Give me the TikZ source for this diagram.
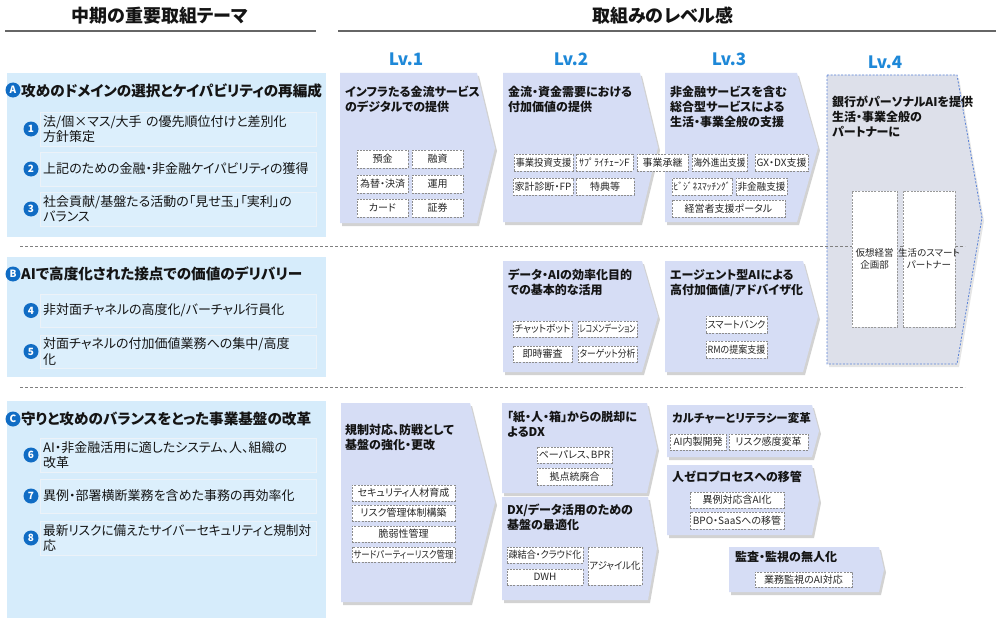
\documentclass[tikz,border=0pt]{standalone}
\usepackage{fontspec}
\setmainfont{Noto Sans CJK JP}[RawFeature=+palt]
\usetikzlibrary{shadows}
\definecolor{panelblue}{RGB}{214,236,251}
\definecolor{itemfill}{RGB}{220,239,252}
\definecolor{itemdraw}{RGB}{236,242,248}
\definecolor{circblue}{RGB}{16,108,196}
\definecolor{chevfill}{RGB}{214,221,245}
\definecolor{lvfourfill}{RGB}{221,224,234}
\definecolor{lvfourdraw}{RGB}{90,130,215}
\definecolor{lvblue}{RGB}{30,136,216}
\definecolor{txt}{RGB}{20,20,20}
\newsavebox\fitbx
\newcommand\fittext[2]{\sbox\fitbx{#2}\ifdim\wd\fitbx>#1\relax\pgfmathsetmacro\fitf{#1/\wd\fitbx}\scalebox{\fitf}[1]{\usebox\fitbx}\else\usebox\fitbx\fi}
\newcommand\chev[6]{%
  \coordinate (#1) at (#2,#3);
  \fill[chevfill, chevshadow] (#2,#3) -- (#4,#3) -- (#5,{(#3+#6)/2}) -- (#4,#6) -- (#2,#6) -- cycle;}
\newcommand\chevtext[4]{\node[chevtxt] (#1) at (#2,#3) {#4};}
\newcommand\tagbx[6]{\pgfmathsetmacro\tagw{#4-#2-3}%
  \node[tagstyle, minimum width={#4-#2}, minimum height={#5-#3}] (#1) at ({(#2+#4)/2},{(#3+#5)/2}) {\fittext{\tagw pt}{#6}};}
\newcommand\themeitem[5]{%
  \draw[itembox] (40,#2) rectangle (316,#3);
  \node[circ] (c#1) at (31,{(#2+#3)/2}) {#4};
  \node[itemtext] (i#1) at (43,{(#2+#3)/2}) {#5};}
\begin{document}
\begin{tikzpicture}[x=1pt,y=-1pt,
  titlefont/.style={font=\bfseries\fontsize{18}{20}\selectfont, text=txt, inner sep=0},
  titleline/.style={draw=black!60, line width=1.3pt},
  sep/.style={draw=black!50, line width=0.8pt, dash pattern=on 3pt off 2pt},
  circ/.style={circle, fill=circblue, text=white, inner sep=0, minimum size=15pt, font=\bfseries\fontsize{10}{10}\selectfont},
  head/.style={anchor=west, inner sep=0, font=\bfseries\fontsize{14.6}{16}\selectfont, text=txt},
  itembox/.style={fill=itemfill, draw=itemdraw, line width=0.8pt},
  itemtext/.style={anchor=west, inner sep=0, text width=272pt, align=left, font=\fontsize{13}{15.5}\selectfont, text=txt},
  lv/.style={font=\bfseries\fontsize{17}{18}\selectfont, text=lvblue, inner sep=0},
  chevshadow/.style={drop shadow={shadow xshift=2pt, shadow yshift=-3pt, opacity=0.35}},
  chevtxt/.style={anchor=north west, inner sep=0, align=left, font=\bfseries\fontsize{12}{15}\selectfont, text=txt},
  tagstyle/.style={fill=white, draw=black!45, dash pattern=on 2pt off 1.2pt, line width=0.6pt, inner sep=0, font=\fontsize{10}{11}\selectfont, text=black!85},
  bigtag/.style={fill=white, draw=black!40, dash pattern=on 2pt off 1.2pt, line width=0.6pt, inner sep=0},
  bigtagtext/.style={inner sep=0, align=center, font=\fontsize{9.5}{12}\selectfont, text=black!85}
]
\useasboundingbox (0,0) rectangle (996,618);
\fill[white] (0,0) rectangle (996,618);

% titles
\node[titlefont] (t1) at (160,16) {中期の重要取組テーマ};
\draw[titleline] (5,31) -- (316,31);
\node[titlefont] (t2) at (663,16) {取組みのレベル感};
\draw[titleline] (338,31) -- (996,31);

% left panels
\fill[panelblue] (7,73) rectangle (326,237);
\fill[panelblue] (7,257) rectangle (326,377);
\fill[panelblue] (7,401) rectangle (326,618);

\node[circ] (ca) at (13,90) {A};
\node[head] (ha) at (21,91) {攻めのドメインの選択とケイパビリティの再編成};
\themeitem{1}{112}{146}{1}{法/個×マス/大手 の優先順位付けと差別化\\方針策定}
\themeitem{2}{152}{186}{2}{上記のための金融・非金融ケイパビリティの獲得}
\themeitem{3}{192}{226}{3}{社会貢献/基盤たる活動の「見せ玉」「実利」の\\バランス}

\node[circ] (cb) at (13,274) {B};
\node[head] (hb) at (21,274) {AIで高度化された接点での価値のデリバリー};
\themeitem{4}{294}{327}{4}{非対面チャネルの高度化/バーチャル行員化}
\themeitem{5}{335}{368}{5}{対面チャネルの付加価値業務への集中/高度\\化}

\node[circ] (cc) at (13,419) {C};
\node[head] (hc) at (21,419) {守りと攻めのバランスをとった事業基盤の改革};
\themeitem{6}{438}{472}{6}{AI・非金融活用に適したシステム、人、組織の\\改革}
\themeitem{7}{479}{513}{7}{異例・部署横断業務を含めた事務の再効率化}
\themeitem{8}{521}{555}{8}{\fittext{268pt}{最新リスクに備えたサイバーセキュリティと規制対}\\応}

% level labels
\node[lv] (lv1) at (406,59) {Lv.1};
\node[lv] (lv2) at (571,59) {Lv.2};
\node[lv] (lv3) at (729,59) {Lv.3};
\node[lv] (lv4) at (885,62) {Lv.4};

% Lv.4 shape
\draw[fill=lvfourfill, draw=lvfourdraw, line width=0.8pt, dash pattern=on 2pt off 1.5pt, drop shadow={shadow xshift=2pt, shadow yshift=-3pt, opacity=0.2}]
  (827,75) -- (957,75) -- (982,218) -- (957,364) -- (827,364) -- cycle;

% separators
\draw[sep] (20,246) -- (965,246);
\draw[sep] (20,387) -- (965,387);

% chevrons
\chev{k1}{340}{73}{477}{495}{223}
\chev{k2}{503}{73}{640}{658}{222}
\chev{k3}{665}{73}{797}{818}{222}
\chev{k4}{503}{261}{642}{658}{372}
\chev{k5}{665}{261}{803}{818}{372}
\chev{k6}{341}{403}{470}{495}{602}
\chev{k7}{502}{403}{647}{657}{493}
\chev{k8}{502}{497}{648}{657}{600}
\chev{k9}{667}{405}{812}{819}{457}
\chev{k10}{667}{465}{812}{819}{535}
\chev{k11}{729}{547}{879}{884}{592}

% chevron headings
\chevtext{h1}{345}{86}{インフラたる金流サービス\\のデジタルでの提供}
\chevtext{h2}{508}{86}{金流・資金需要における\\付加価値の提供}
\chevtext{h3}{670}{86}{非金融サービスを含む\\総合型サービスによる\\生活・事業全般の支援}
\chevtext{h4}{832}{96}{銀行がパーソナルAIを提供\\生活・事業全般の\\パートナーに}
\chevtext{h5}{508}{269}{データ・AIの効率化目的\\での基本的な活用}
\chevtext{h6}{670}{269}{エージェント型AIによる\\高付加価値/アドバイザ化}
\chevtext{h7}{345}{424}{規制対応、防戦として\\基盤の強化・更改}
\chevtext{h8}{507}{411}{「紙・人・箱」からの脱却に\\よるDX}
\chevtext{h9}{507}{504}{DX/データ活用のための\\基盤の最適化}
\node[chevtxt, font=\bfseries\fontsize{11.5}{15}\selectfont] (h10) at (672,412) {カルチャーとリテラシー変革};
\chevtext{h11}{672}{471}{人ゼロプロセスへの移管}
\chevtext{h12}{735}{551}{監査・監視の無人化}

% tags Lv.1 top
\tagbx{a1}{357}{150}{408}{168}{預金}
\tagbx{a2}{412}{150}{463}{168}{融資}
\tagbx{a3}{357}{175}{408}{193}{為替・決済}
\tagbx{a4}{412}{175}{463}{193}{運用}
\tagbx{a5}{357}{199}{408}{217}{カード}
\tagbx{a6}{412}{199}{463}{217}{証券}
% Lv.2 / Lv.3 top
\tagbx{b1}{514}{154}{573}{171}{事業投資支援}
\tagbx{b2}{576}{154}{633}{171}{ｻﾌﾟﾗｲﾁｪｰﾝF}
\tagbx{b3}{637}{154}{688}{171}{事業承継}
\tagbx{b4}{513}{178}{573}{195}{家計診断・FP}
\tagbx{b5}{576}{178}{634}{195}{特典等}
\tagbx{c1}{692}{154}{747}{171}{海外進出支援}
\tagbx{c2}{755}{154}{808}{171}{GX・DX支援}
\tagbx{c3}{672}{178}{732}{195}{ﾋﾞｼﾞﾈｽﾏｯﾁﾝｸﾞ}
\tagbx{c4}{736}{178}{787}{195}{非金融支援}
\tagbx{c5}{672}{200}{785}{217}{経営者支援ポータル}
% Lv.4 boxes
\node[bigtag, minimum width=45pt, minimum height=136pt] (d1) at (874.5,259) {};
\node[bigtagtext] (d1t) at (d1) {仮想経営\\企画部};
\node[bigtag, minimum width=52pt, minimum height=136pt] (d2) at (929,259) {};
\node[bigtagtext] (d2t) at (d2) {生活のスマート\\パートナー};
% middle row
\tagbx{e1}{513}{321}{572}{337}{チャットボット}
\tagbx{e2}{578}{321}{637}{337}{レコメンデーション}
\tagbx{e3}{513}{346}{572}{362}{即時審査}
\tagbx{e4}{578}{346}{637}{362}{ターゲット分析}
\tagbx{f1}{706}{316}{767}{333}{スマートバンク}
\tagbx{f2}{706}{341}{767}{358}{RMの提案支援}
% bottom rows
\tagbx{g1}{352}{485}{455}{501}{セキュリティ人材育成}
\tagbx{g2}{352}{505}{455}{521}{リスク管理体制構築}
\tagbx{g3}{352}{526}{455}{542}{脆弱性管理}
\tagbx{g4}{352}{547}{455}{562}{サードパーティーリスク管理}
\tagbx{p1}{537}{447}{612}{463}{ペーパレス、BPR}
\tagbx{p2}{537}{468}{612}{485}{拠点統廃合}
\tagbx{q1}{507}{547}{583}{563}{疎結合・クラウド化}
\tagbx{q2}{507}{569}{583}{585}{DWH}
\tagbx{q3}{588}{547}{642}{585}{アジャイル化}
\tagbx{r1}{670}{434}{726}{450}{AI内製開発}
\tagbx{r2}{729}{434}{808}{450}{リスク感度変革}
\tagbx{s1}{690}{492}{784}{508}{異例対応含AI化}
\tagbx{s2}{690}{512}{784}{529}{BPO・SaaSへの移管}
\tagbx{u1}{755}{572}{852}{587}{業務監視のAI対応}
\end{tikzpicture}
\end{document}
